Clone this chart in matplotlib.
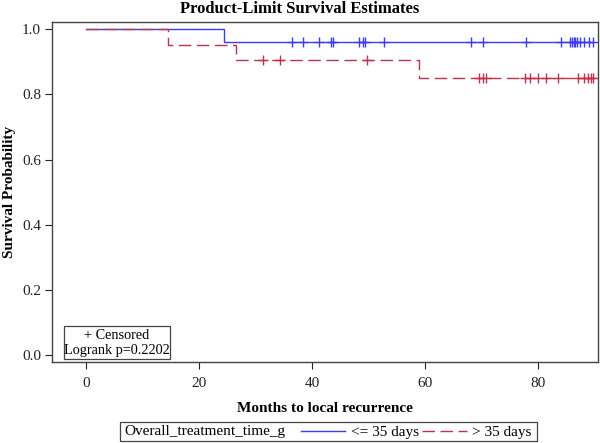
import numpy as np
import matplotlib
matplotlib.use("Agg")
import matplotlib.pyplot as plt
from matplotlib.patches import Rectangle

plt.rcParams['font.family'] = ['Liberation Serif', 'DejaVu Serif']

# ---- data ----
group_labels = ['<= 35 days', '> 35 days']
blue_event_times = [0.0, 24.5]
blue_surv = [1.0, 0.962]
blue_censor = [36.4, 38.4, 41.3, 43.4, 43.8, 48.4, 49.0, 49.4, 52.7,
               68.1, 70.2, 77.9, 84.0, 85.6, 86.0, 86.3, 86.6, 86.9,
               87.5, 88.1, 89.0, 89.7]
red_event_times = [0.0, 14.6, 26.6, 58.9]
red_surv = [1.0, 0.953, 0.906, 0.850]
red_censor = [31.3, 34.4, 49.8, 69.5, 70.2, 70.8, 77.7, 78.6, 79.9,
              81.4, 83.5, 87.0, 88.1, 88.8, 89.4, 89.8]
xticks = [0, 20, 40, 60, 80]
yticks = [0.0, 0.2, 0.4, 0.6, 0.8, 1.0]

BLUE = '#3c3cf0'
RED = '#c4304a'

fig = plt.figure(figsize=(6.0, 4.43), dpi=100)
W, H = 600, 443
ax = fig.add_axes([52 / W, 1 - 362 / H, (598 - 52) / W, (362 - 22) / H])


def surv_at(times, surv, t):
    idx = np.searchsorted(times, t, side='right') - 1
    return np.asarray(surv)[idx]


def curve(times, surv, censor, color, ls):
    end = max(censor)
    xs = list(times) + [end]
    ys = list(surv) + [surv[-1]]
    line, = ax.step(xs, ys, where='post', color=color, lw=1.0, linestyle=ls)
    cy = surv_at(times, surv, np.asarray(censor))
    ax.plot(censor, cy, linestyle='none', marker='+', color=color,
            markersize=6.5, markeredgewidth=1.0)
    return line


lb = curve(blue_event_times, blue_surv, blue_censor, BLUE, '-')
lr = curve(red_event_times, red_surv, red_censor, RED, (0, (9, 4)))

ax.set_xlim(-6.0, 90.6)
ax.set_ylim(-0.02, 1.022)
ax.set_xticks(xticks)
ax.set_xticklabels([str(v) for v in xticks])
ax.set_yticks(yticks)
ax.set_yticklabels(['%.1f' % v for v in yticks])
ax.tick_params(direction='out', length=5, width=0.8, labelsize=11,
               colors='#222222', pad=3)
ax.tick_params(axis='x', pad=6)
for s in ax.spines.values():
    s.set_color('#444444')
    s.set_linewidth(1.0)

ax.set_xlabel('Months to local recurrence', fontsize=11, fontweight='bold')
ax.set_ylabel('Survival Probability', fontsize=11, fontweight='bold')
ax.xaxis.set_label_coords(0.5, (362 - 408) / 340, transform=ax.transAxes)
ax.yaxis.set_label_coords((10 - 52) / 546, 0.5, transform=ax.transAxes)
ax.xaxis.label.set_va('center')
ax.yaxis.label.set_va('center')
fig.text(0.5, 1 - 9 / H, 'Product-Limit Survival Estimates', ha='center',
         va='center', fontsize=12, fontweight='bold')

# censored / logrank box
ax.add_patch(Rectangle((0.022, 0.009), 0.194, 0.097, transform=ax.transAxes,
                       fill=False, edgecolor='#444444', lw=0.9))
ax.text(0.119, 0.079, '+ Censored', transform=ax.transAxes, ha='center',
        va='center', fontsize=10.3)
ax.text(0.119, 0.033, 'Logrank p=0.2202', transform=ax.transAxes,
        ha='center', va='center', fontsize=10.3)

# bottom legend
fig.patches.append(Rectangle((120 / W, 1 - 441 / H), (537 - 120) / W, 19 / H,
                             transform=fig.transFigure, fill=False,
                             edgecolor='#444444', lw=0.9))
fig.text(124 / W, 1 - 432 / H, 'Overall_treatment_time_g', ha='left',
         va='center', fontsize=11)
fig.legend([lb, lr], group_labels, loc='center left',
           bbox_to_anchor=(301 / W, 1 - 432 / H), ncol=2, frameon=False,
           fontsize=11, handlelength=2.9, handletextpad=0.35,
           columnspacing=0.25, borderpad=0, borderaxespad=0)

fig.savefig('out.png', dpi=100)
